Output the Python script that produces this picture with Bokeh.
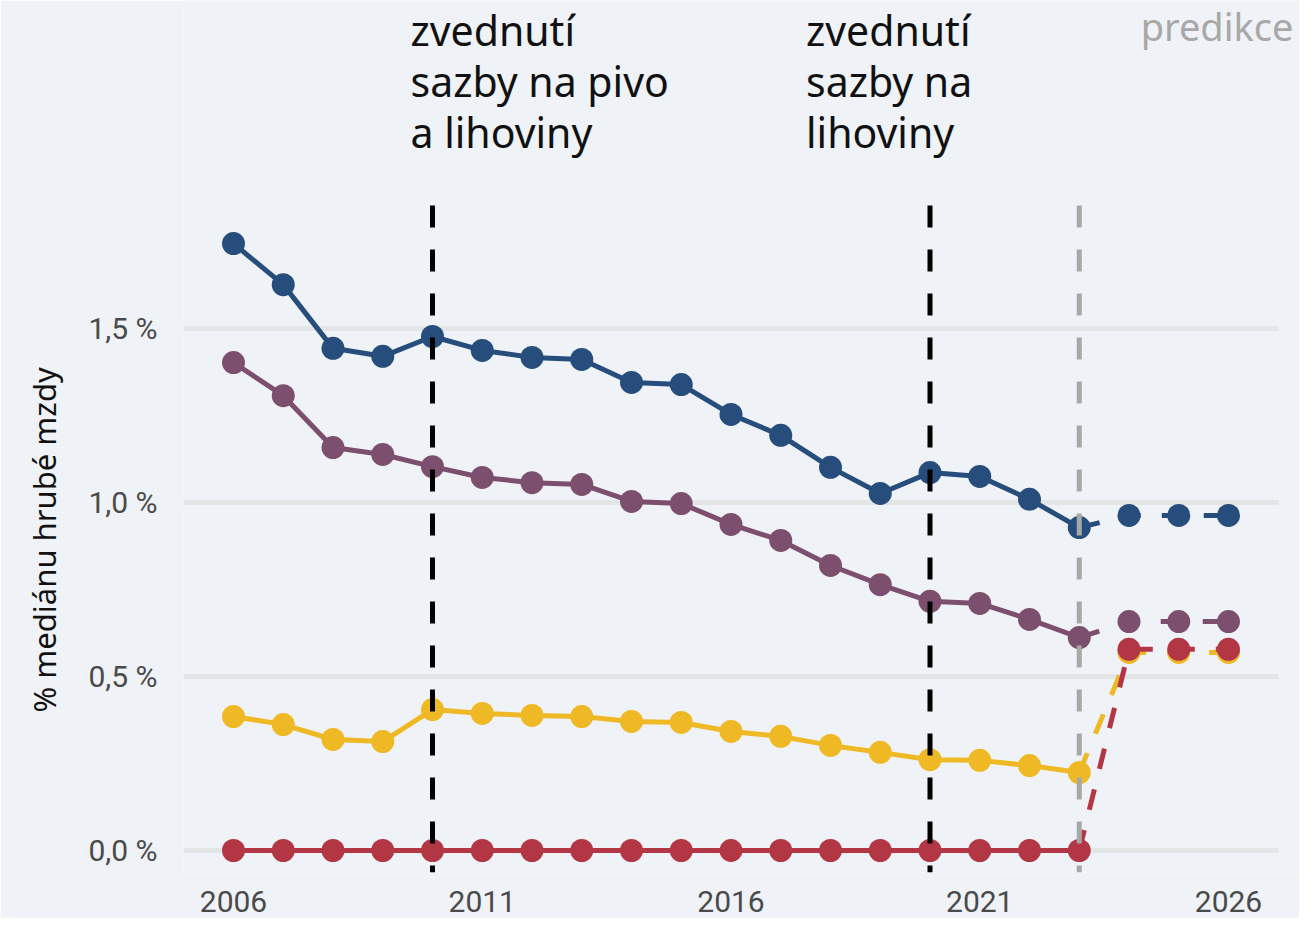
from bokeh.plotting import figure
from bokeh.models import FixedTicker, Label, Title
from bokeh.embed import file_html
from bokeh.resources import INLINE

# ---------------- data ----------------
years_hist = [2006, 2007, 2008, 2009, 2010, 2011, 2012, 2013, 2014, 2015,
              2016, 2017, 2018, 2019, 2020, 2021, 2022, 2023]
years_pred = [2024, 2025, 2026]

blue_hist = [1.744, 1.626, 1.443, 1.420, 1.477, 1.437, 1.417, 1.411, 1.345, 1.339,
             1.253, 1.193, 1.101, 1.026, 1.086, 1.075, 1.009, 0.928]
blue_pred = [0.963, 0.963, 0.963]

purple_hist = [1.402, 1.307, 1.158, 1.138, 1.103, 1.072, 1.057, 1.052, 1.003, 0.997,
               0.937, 0.891, 0.819, 0.764, 0.716, 0.710, 0.664, 0.612]
purple_pred = [0.658, 0.658, 0.658]

yellow_hist = [0.385, 0.362, 0.319, 0.313, 0.405, 0.394, 0.388, 0.385, 0.371, 0.368,
               0.342, 0.328, 0.302, 0.282, 0.261, 0.259, 0.244, 0.224]
yellow_pred = [0.569, 0.569, 0.569]

red_hist = [0.0, 0.0, 0.0, 0.0, 0.0, 0.0, 0.0, 0.0, 0.0, 0.0,
            0.0, 0.0, 0.0, 0.0, 0.0, 0.0, 0.0, 0.0]
red_pred = [0.578, 0.578, 0.578]

event_years = [2010, 2020]
event_texts = [["zvednutí", "sazby na pivo", "a lihoviny"],
               ["zvednutí", "sazby na", "lihoviny"]]
prediction_start = 2023
prediction_text = "predikce"

x_ticks = [2006, 2011, 2016, 2021, 2026]
x_tick_labels = ["2006", "2011", "2016", "2021", "2026"]
y_ticks = [0.0, 0.5, 1.0, 1.5]
y_tick_labels = ["0,0 %", "0,5 %", "1,0 %", "1,5 %"]
y_title = "% mediánu hrubé mzdy"

# ---------------- style / geometry ----------------
BG = "#eff2f6"
C_BLUE = "#264d7c"
C_PURPLE = "#7d4f6e"
C_YELLOW = "#efb925"
C_RED = "#b33645"
C_GRAY = "#a8a8a8"

PX_PER_YEAR = 49.75
PX_PER_UNIT = 348.0
ZERO_PX = 850.0          # canvas y of value 0
FRAME_LEFT = 183
FRAME_W = 1299 - FRAME_LEFT
FRAME_H = 872
Y_TOP = ZERO_PX / PX_PER_UNIT
Y_BOT = (ZERO_PX - FRAME_H) / PX_PER_UNIT
X_START = 2006 - (233 - FRAME_LEFT) / PX_PER_YEAR
X_END = X_START + FRAME_W / PX_PER_YEAR
GRID_END = 2006 + (1278 - 233) / PX_PER_YEAR

p = figure(frame_width=FRAME_W, frame_height=FRAME_H,
           x_range=(X_START, X_END), y_range=(Y_BOT, Y_TOP),
           output_backend="svg", toolbar_location=None,
           min_border_left=FRAME_LEFT, min_border_right=0, min_border_top=0,
           min_border_bottom=46)

p.background_fill_color = BG
p.border_fill_color = BG
p.outline_line_color = None

# axes
p.xaxis.ticker = FixedTicker(ticks=x_ticks)
p.xaxis.major_label_overrides = {t: l for t, l in zip(x_ticks, x_tick_labels)}
p.yaxis.ticker = FixedTicker(ticks=y_ticks)
p.yaxis.major_label_overrides = {t: l for t, l in zip(y_ticks, y_tick_labels)}
for ax in (p.xaxis[0], p.yaxis[0]):
    ax.axis_line_color = None
    ax.major_tick_line_color = None
    ax.minor_tick_line_color = None
    ax.major_tick_out = 0
    ax.major_tick_in = 0
    ax.major_label_text_font = "Roboto"
    ax.major_label_text_font_size = "30px"
    ax.major_label_text_color = "#4a4a4a"
p.xaxis.major_label_standoff = 18
p.yaxis.major_label_standoff = 26

ytitle = Title(text=y_title, align="left", offset=FRAME_H - 712,
               vertical_align="top",
               text_font="Noto Sans", text_font_size="31px",
               text_font_style="normal", text_color="#111111", standoff=37)
p.add_layout(ytitle, "left")

p.xgrid.grid_line_color = None
p.ygrid.grid_line_color = "#e4e5e7"
p.ygrid.grid_line_width = 5
if "cross_bounds" in p.ygrid[0].properties():
    p.ygrid.cross_bounds = (X_START, GRID_END)

LW = 5
MS = 23
DASH = "21 21"

series = [
    (blue_hist, blue_pred, C_BLUE),
    (purple_hist, purple_pred, C_PURPLE),
    (yellow_hist, yellow_pred, C_YELLOW),
    (red_hist, red_pred, C_RED),
]

for hist, pred, col in series:
    p.line(years_hist, hist, line_color=col, line_width=LW)
    p.line([years_hist[-1]] + years_pred, [hist[-1]] + pred,
           line_color=col, line_width=LW, line_dash=DASH)

for hist, pred, col in series:
    p.scatter(years_hist, hist, size=MS, fill_color=col, line_color=None)
    p.scatter(years_pred, pred, size=MS, fill_color=col, line_color=None)

# vertical markers
v_top = (ZERO_PX - 205.0) / PX_PER_UNIT
p.segment(x0=event_years, y0=[v_top] * len(event_years),
          x1=event_years, y1=[Y_BOT] * len(event_years),
          line_color="black", line_width=5, line_dash="22 22")
p.segment(x0=[prediction_start], y0=[v_top], x1=[prediction_start], y1=[Y_BOT],
          line_color=C_GRAY, line_width=5, line_dash="22 22")

# annotations
offsets = [-22, -124]
for ev, lines, off in zip(event_years, event_texts, offsets):
    for i, line in enumerate(lines):
        base_px = 29 + 51 * i
        p.add_layout(Label(x=ev, y=Y_TOP - base_px / PX_PER_UNIT, x_offset=off,
                           text=line, text_font="Noto Sans", text_font_size="41px",
                           text_color="#111111", text_align="left",
                           text_baseline="alphabetic"))

p.add_layout(Label(x=x_ticks[-1], y=Y_TOP - 25 / PX_PER_UNIT, x_offset=65,
                   text=prediction_text, text_font="Noto Sans", text_font_size="38px",
                   text_color=C_GRAY, text_align="right", text_baseline="alphabetic"))

open("out.html", "w").write(file_html(p, INLINE))
